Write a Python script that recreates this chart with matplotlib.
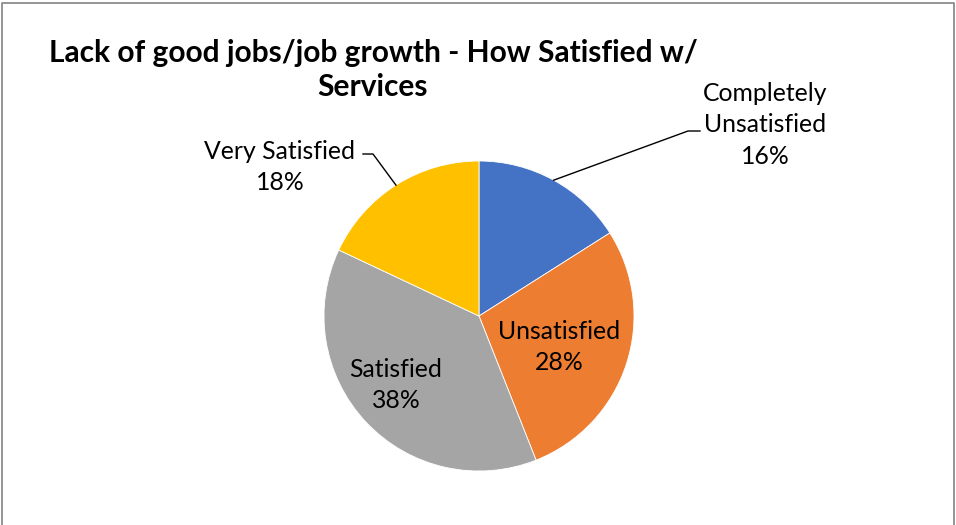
import numpy as np
import matplotlib.pyplot as plt

plt.rcParams['font.family'] = ['Lato', 'DejaVu Sans']

# satisfaction shares, clockwise from 12 o'clock
categories = ['Completely\nUnsatisfied', 'Unsatisfied', 'Satisfied', 'Very Satisfied']
shares = [16, 28, 38, 18]
colors = ['#4472C4', '#ED7D31', '#A5A5A5', '#FFC000']
title = 'Lack of good jobs/job growth - How Satisfied w/\nServices'

W, H = 956, 525
fig = plt.figure(figsize=(W / 100, H / 100), dpi=100)
ax = fig.add_axes([0, 0, 1, 1])

# axes in pixel units, y pointing down
cx, cy, R = 479, 316, 155
# with y inverted, startangle=-90 is the top and counterclock=True runs clockwise on screen
wedges, _ = ax.pie(shares, colors=colors, startangle=-90, counterclock=True,
                   center=(cx, cy), radius=R, frame=True,
                   wedgeprops=dict(edgecolor='white', linewidth=0.6))
ax.set_xlim(0, W)
ax.set_ylim(H, 0)
ax.set_aspect('auto')
ax.axis('off')


def edge_point(w):
    a = np.deg2rad((w.theta1 + w.theta2) / 2)
    return cx + R * np.cos(a), cy + R * np.sin(a)


def pct(v):
    return f'{v / sum(shares) * 100:.0f}%'


lab_kw = dict(ha='center', va='center', fontsize=17.8, color='black', linespacing=1.45)

# inside labels
ax.text(559, 347, f'{categories[1]}\n{pct(shares[1])}', **lab_kw)
ax.text(396, 385, f'{categories[2]}\n{pct(shares[2])}', **lab_kw)

# outside labels with leader lines
ax.text(765, 125, f'{categories[0]}\n{pct(shares[0])}', **lab_kw)
ex, ey = edge_point(wedges[0])
ax.plot([700, 688, ex], [131, 131, ey], color='black', lw=1)

ax.text(280, 167, f'{categories[3]}\n{pct(shares[3])}', **lab_kw)
ex, ey = edge_point(wedges[3])
ax.plot([363, 373, ex], [154, 154, ey], color='black', lw=1)

ax.text(373, 70, title, ha='center', va='center', fontsize=21.5,
        fontweight='bold', linespacing=1.3)

# chart frame (bottom edge is outside the picture)
ax.plot([2.5, 2.5, 954.5, 954.5], [H, 3, 3, H], color='#8c8c8c', lw=1.3)

fig.savefig('out.png', dpi=100)
